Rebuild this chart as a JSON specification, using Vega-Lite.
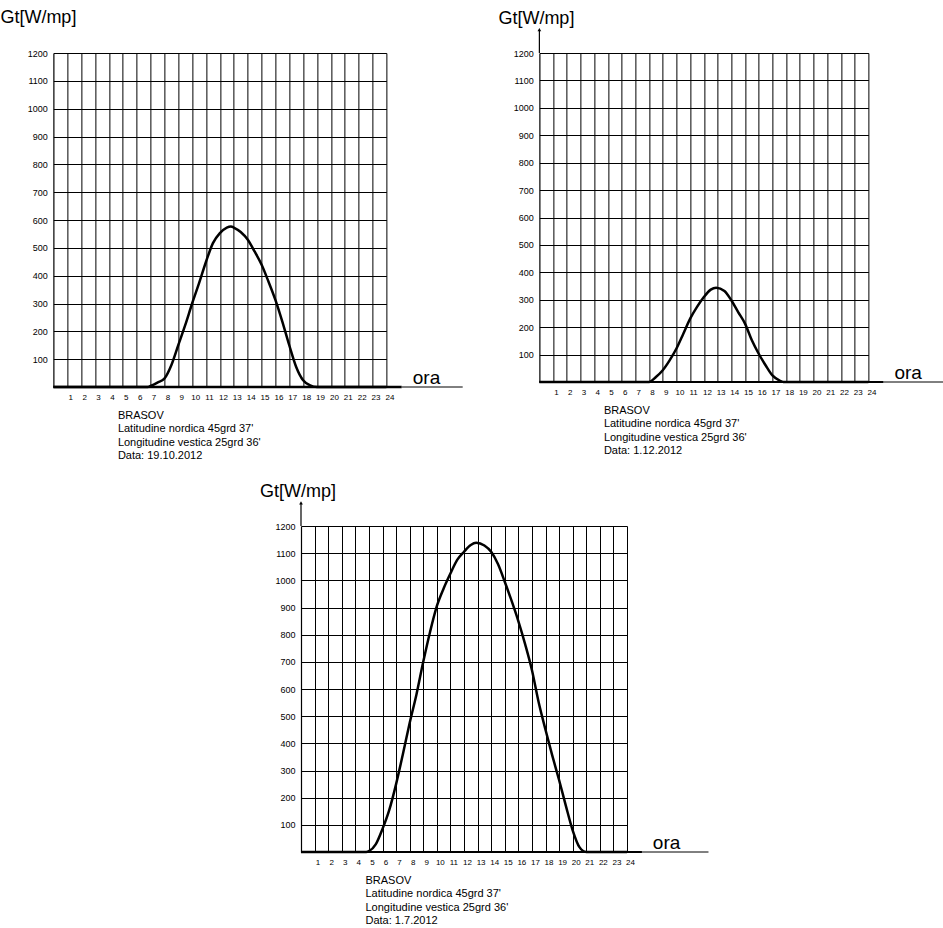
{
  "$schema": "https://vega.github.io/schema/vega-lite/v6.json",
  "padding": {"left": 0, "top": 9, "right": 0, "bottom": 0},
  "background": "white",
  "config": {
    "font": "Liberation Sans",
    "view": {"stroke": null},
    "title": {"anchor": "start", "frame": "group", "fontSize": 18, "fontWeight": "normal", "color": "#000", "font": "Liberation Sans"},
    "axis": {"grid": true, "gridColor": "#000", "gridOpacity": 1, "gridWidth": 1, "ticks": false, "tickCount": 40, "domainColor": "#000", "domainWidth": 1.2, "labelColor": "#000", "labelFontSize": 8, "labelFlush": false, "labelOverlap": false, "format": "d"},
    "axisX": {"labelAngle": 0, "labelOffset": 3, "labelPadding": 6, "titleAnchor": "start", "titleAlign": "left", "titleBaseline": "top", "titleFontSize": 11, "titleFontWeight": "normal", "titleColor": "#000", "titleLineHeight": 13.5, "titlePadding": 8, "titleX": 64},
    "axisY": {"labelPadding": 6, "labelFontSize": 9}
  },
  "datasets": {
    "oct": [
      {"ora": 0, "Gt": 0}, {"ora": 6.8, "Gt": 0}, {"ora": 7, "Gt": 4}, {"ora": 7.5, "Gt": 16}, {"ora": 8, "Gt": 30},
      {"ora": 8.5, "Gt": 78}, {"ora": 9, "Gt": 150}, {"ora": 9.5, "Gt": 222}, {"ora": 10, "Gt": 300}, {"ora": 10.5, "Gt": 373},
      {"ora": 11, "Gt": 450}, {"ora": 11.5, "Gt": 517}, {"ora": 12, "Gt": 553}, {"ora": 12.5, "Gt": 573}, {"ora": 12.8, "Gt": 577},
      {"ora": 13, "Gt": 573}, {"ora": 13.5, "Gt": 557}, {"ora": 14, "Gt": 530}, {"ora": 14.5, "Gt": 487}, {"ora": 15, "Gt": 440},
      {"ora": 15.5, "Gt": 379}, {"ora": 16, "Gt": 313}, {"ora": 16.5, "Gt": 235}, {"ora": 17, "Gt": 150}, {"ora": 17.5, "Gt": 72},
      {"ora": 18, "Gt": 24}, {"ora": 18.5, "Gt": 6}, {"ora": 19, "Gt": 0}, {"ora": 24, "Gt": 0}
    ],
    "dec": [
      {"ora": 0, "Gt": 0}, {"ora": 8, "Gt": 0}, {"ora": 8.5, "Gt": 18}, {"ora": 9, "Gt": 43}, {"ora": 9.5, "Gt": 79},
      {"ora": 10, "Gt": 122}, {"ora": 10.5, "Gt": 176}, {"ora": 11, "Gt": 231}, {"ora": 11.5, "Gt": 274}, {"ora": 12, "Gt": 310},
      {"ora": 12.5, "Gt": 337}, {"ora": 12.9, "Gt": 344}, {"ora": 13.5, "Gt": 332}, {"ora": 14, "Gt": 298}, {"ora": 14.5, "Gt": 255},
      {"ora": 15, "Gt": 213}, {"ora": 15.5, "Gt": 152}, {"ora": 16, "Gt": 103}, {"ora": 16.5, "Gt": 61}, {"ora": 17, "Gt": 24},
      {"ora": 17.5, "Gt": 6}, {"ora": 17.8, "Gt": 0}, {"ora": 24, "Gt": 0}
    ],
    "jul": [
      {"ora": 0, "Gt": 0}, {"ora": 4.8, "Gt": 0}, {"ora": 5, "Gt": 3}, {"ora": 5.5, "Gt": 28}, {"ora": 6, "Gt": 85},
      {"ora": 6.5, "Gt": 155}, {"ora": 7, "Gt": 250}, {"ora": 7.5, "Gt": 360}, {"ora": 8, "Gt": 475}, {"ora": 8.5, "Gt": 580},
      {"ora": 9, "Gt": 700}, {"ora": 9.5, "Gt": 810}, {"ora": 10, "Gt": 905}, {"ora": 10.5, "Gt": 970}, {"ora": 11, "Gt": 1025},
      {"ora": 11.5, "Gt": 1075}, {"ora": 12, "Gt": 1105}, {"ora": 12.5, "Gt": 1130}, {"ora": 12.9, "Gt": 1138}, {"ora": 13.5, "Gt": 1128},
      {"ora": 14, "Gt": 1105}, {"ora": 14.5, "Gt": 1060}, {"ora": 15, "Gt": 995}, {"ora": 15.5, "Gt": 925}, {"ora": 16, "Gt": 850},
      {"ora": 16.5, "Gt": 765}, {"ora": 17, "Gt": 670}, {"ora": 17.5, "Gt": 550}, {"ora": 18, "Gt": 450}, {"ora": 18.5, "Gt": 355},
      {"ora": 19, "Gt": 265}, {"ora": 19.5, "Gt": 170}, {"ora": 20, "Gt": 80}, {"ora": 20.5, "Gt": 18}, {"ora": 21, "Gt": 0},
      {"ora": 24, "Gt": 0}
    ]
  },
  "center": true,
  "spacing": 22,
  "vconcat": [
    {
      "spacing": 35,
      "hconcat": [
        {
          "width": 333, "height": 334,
          "title": {"text": "Gt[W/mp]", "dx": -53, "offset": 22},
          "layer": [
            {
              "data": {"name": "oct"},
              "mark": {"type": "line", "color": "#000", "strokeWidth": 2.5, "interpolate": "monotone"},
              "encoding": {
                "x": {"field": "ora", "type": "quantitative", "scale": {"domain": [0, 24], "nice": false, "zero": false},
                  "axis": {"values": [1,2,3,4,5,6,7,8,9,10,11,12,13,14,15,16,17,18,19,20,21,22,23,24],
                    "title": ["BRASOV", "Latitudine nordica 45grd 37'", "Longitudine vestica 25grd 36'", "Data: 19.10.2012"]}},
                "y": {"field": "Gt", "type": "quantitative", "scale": {"domain": [0, 1200], "nice": false},
                  "axis": {"values": [100,200,300,400,500,600,700,800,900,1000,1100,1200], "title": null}}
              }
            },
            {
              "data": {"values": [{}]},
              "mark": {"type": "rule", "color": "#000", "strokeWidth": 2.5},
              "encoding": {"x": {"datum": 0}, "x2": {"datum": 25.1}, "y": {"datum": 0}}
            },
            {
              "data": {"values": [{}]},
              "mark": {"type": "rule", "color": "#000", "strokeWidth": 1},
              "encoding": {"x": {"datum": 25.1}, "x2": {"datum": 29.5}, "y": {"datum": 0}}
            },
            {
              "data": {"values": [{}]},
              "mark": {"type": "text", "text": "ora", "fontSize": 19, "align": "left", "baseline": "alphabetic", "dy": -3, "color": "#000"},
              "encoding": {"x": {"datum": 25.9}, "y": {"datum": 0}}
            }
          ]
        },
        {
          "width": 329, "height": 329,
          "title": {"text": "Gt[W/mp]", "dx": -41, "offset": 0},
          "layer": [
            {
              "data": {"name": "dec"},
              "mark": {"type": "line", "color": "#000", "strokeWidth": 2.5, "interpolate": "monotone"},
              "encoding": {
                "x": {"field": "ora", "type": "quantitative", "scale": {"domain": [0, 24], "nice": false, "zero": false},
                  "axis": {"values": [1,2,3,4,5,6,7,8,9,10,11,12,13,14,15,16,17,18,19,20,21,22,23,24],
                    "title": ["BRASOV", "Latitudine nordica 45grd 37'", "Longitudine vestica 25grd 36'", "Data: 1.12.2012"]}},
                "y": {"field": "Gt", "type": "quantitative", "scale": {"domain": [0, 1200], "nice": false},
                  "axis": {"values": [100,200,300,400,500,600,700,800,900,1000,1100,1200], "title": null}}
              }
            },
            {
              "data": {"values": [{}]},
              "mark": {"type": "rule", "color": "#000", "strokeWidth": 2},
              "encoding": {"x": {"datum": 0}, "x2": {"datum": 25.1}, "y": {"datum": 0}}
            },
            {
              "data": {"values": [{}]},
              "mark": {"type": "rule", "color": "#000", "strokeWidth": 1},
              "encoding": {"x": {"datum": 25.1}, "x2": {"datum": 30.4}, "y": {"datum": 0}}
            },
            {
              "data": {"values": [{}]},
              "mark": {"type": "text", "text": "ora", "fontSize": 19, "align": "left", "baseline": "alphabetic", "dy": -3, "color": "#000"},
              "encoding": {"x": {"datum": 25.9}, "y": {"datum": 0}}
            },
            {
              "data": {"values": [{}]},
              "mark": {"type": "rule", "color": "#000", "strokeWidth": 1.2},
              "encoding": {"x": {"datum": 0}, "y": {"datum": 1200}, "y2": {"datum": 1285}}
            },
            {
              "data": {"values": [{}]},
              "mark": {"type": "point", "shape": "triangle-up", "filled": true, "color": "#000", "size": 14, "opacity": 1},
              "encoding": {"x": {"datum": 0}, "y": {"datum": 1285}}
            }
          ]
        }
      ]
    },
    {
      "width": 326, "height": 326,
      "title": {"text": "Gt[W/mp]", "dx": -41, "offset": 0},
      "layer": [
        {
          "data": {"name": "jul"},
          "mark": {"type": "line", "color": "#000", "strokeWidth": 2.5, "interpolate": "monotone"},
          "encoding": {
            "x": {"field": "ora", "type": "quantitative", "scale": {"domain": [0, 24], "nice": false, "zero": false},
              "axis": {"values": [1,2,3,4,5,6,7,8,9,10,11,12,13,14,15,16,17,18,19,20,21,22,23,24],
                "title": ["BRASOV", "Latitudine nordica 45grd 37'", "Longitudine vestica 25grd 36'", "Data: 1.7.2012"]}},
            "y": {"field": "Gt", "type": "quantitative", "scale": {"domain": [0, 1200], "nice": false},
              "axis": {"values": [100,200,300,400,500,600,700,800,900,1000,1100,1200], "title": null}}
          }
        },
        {
          "data": {"values": [{}]},
          "mark": {"type": "rule", "color": "#000", "strokeWidth": 2},
          "encoding": {"x": {"datum": 0}, "x2": {"datum": 25.1}, "y": {"datum": 0}}
        },
        {
          "data": {"values": [{}]},
          "mark": {"type": "rule", "color": "#000", "strokeWidth": 1},
          "encoding": {"x": {"datum": 25.1}, "x2": {"datum": 30}, "y": {"datum": 0}}
        },
        {
          "data": {"values": [{}]},
          "mark": {"type": "text", "text": "ora", "fontSize": 19, "align": "left", "baseline": "alphabetic", "dy": -3, "color": "#000"},
          "encoding": {"x": {"datum": 25.9}, "y": {"datum": 0}}
        },
        {
          "data": {"values": [{}]},
          "mark": {"type": "rule", "color": "#000", "strokeWidth": 1.2},
          "encoding": {"x": {"datum": 0}, "y": {"datum": 1200}, "y2": {"datum": 1285}}
        },
        {
          "data": {"values": [{}]},
          "mark": {"type": "point", "shape": "triangle-up", "filled": true, "color": "#000", "size": 14, "opacity": 1},
          "encoding": {"x": {"datum": 0}, "y": {"datum": 1285}}
        }
      ]
    }
  ]
}
